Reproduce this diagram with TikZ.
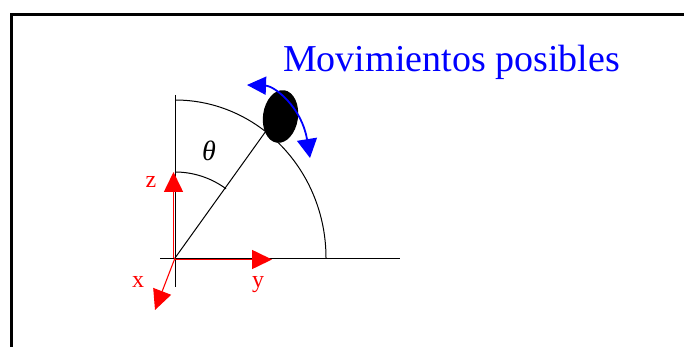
\documentclass[tikz,border=0pt]{standalone}
\usepackage{fontspec}
\setmainfont{Liberation Serif}
\usetikzlibrary{arrows.meta,shapes.geometric}
\tikzset{
  axisline/.style={red, line width=1.6pt},
  axishead/.style={-{Triangle[length=20pt,width=19pt]}},
  thinblack/.style={black, line width=1pt},
  lbl/.style={red, inner sep=0pt, font=\fontsize{24}{24}\selectfont},
}
\begin{document}
\begin{tikzpicture}[x=1pt,y=-1pt]
\useasboundingbox (0,0) rectangle (684,347);
\clip (0,0) rectangle (684,347);
% frame
\coordinate (fb) at (11,360);
\coordinate (fc) at (11,14.7);
\coordinate (fr) at (700,14.7);
\draw[line width=3pt] (fb) -- (fc) -- (fr);
% origin and reference lines
\coordinate (O) at (175,258);
\coordinate (vtop) at (175,95);
\coordinate (vbot) at (175,287);
\coordinate (hl) at (160,258);
\coordinate (hr) at (400,258);
\draw[thinblack] (vtop) -- (vbot);
\draw[thinblack] (hl) -- (hr);
% big arc
\coordinate (arctop) at (175,100);
\draw[thinblack] (arctop) arc[start angle=-90, end angle=0, x radius=151, y radius=158];
% radius line to ball
\coordinate (rp) at (266,131);
\draw[thinblack] (O) -- (rp);
% theta arc
\coordinate (ttop) at (175,172);
\draw[thinblack] (ttop) arc[start angle=-90, end angle=-53.6, radius=86];
\node[inner sep=0pt, font=\fontsize{28}{28}\selectfont\itshape] (theta) at (209,151) {θ};
% ball
\node[ellipse, fill=black, minimum width=35pt, minimum height=53pt, inner sep=0pt, rotate=-8] (ball) at (280.5,116.5) {};
% blue movement arrow
\coordinate (bl) at (247,85);
\coordinate (br) at (310,158);
\draw[blue, line width=1.8pt, {Triangle[length=19pt,width=18pt]}-{Triangle[length=19pt,width=20pt]}]
  (bl) .. controls (275,86) and (302,108) .. (br);
\node[blue, anchor=base west, inner sep=0pt, font=\fontsize{38}{38}\selectfont] (title) at (283,72) {Movimientos posibles};
% axes
\coordinate (zO) at (173.5,258);
\coordinate (zt) at (173.5,172);
\coordinate (yO) at (175,259.5);
\coordinate (yt) at (272,259.5);
\coordinate (xt) at (155,310);
\draw[axisline, axishead] (zO) -- (zt);
\draw[axisline, axishead] (yO) -- (yt);
\draw[red, line width=1.1pt, axishead] (O) -- (xt);
\node[lbl] (lz) at (151,182) {z};
\node[lbl] (ly) at (258,285) {y};
\node[lbl] (lx) at (138,282) {x};
\end{tikzpicture}
\end{document}
